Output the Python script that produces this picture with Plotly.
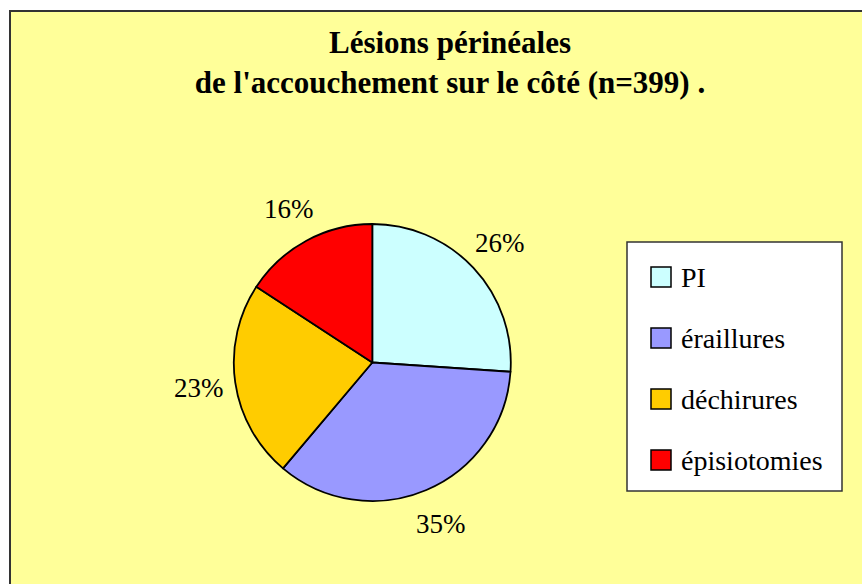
import math
import plotly.graph_objects as go

# ---- data ----
categories = ["PI", "éraillures", "déchirures", "épisiotomies"]
counts = [104, 140, 92, 63]          # n = 399
colors = ["#CCFFFF", "#9999FF", "#FFCC00", "#FF0000"]
title_lines = ["Lésions périnéales", "de l'accouchement sur le côté (n=399) ."]

# ---- layout constants (pixels) ----
W, H = 862, 584
cx, cy, r = 372.3, 362.5, 138.5      # pie centre and radius
label_dist = 175                     # distance of % labels from centre
FONT = "Liberation Serif"

def px_x(x):
    return x / W

def px_y(y):
    return 1 - y / H

total = sum(counts)
pcts = [f"{round(c / total * 100)}%" for c in counts]

fig = go.Figure(
    go.Pie(
        labels=categories,
        values=counts,
        sort=False,
        direction="clockwise",
        rotation=0,
        marker=dict(colors=colors, line=dict(color="black", width=1.8)),
        textinfo="none",
        hoverinfo="label+value+percent",
        showlegend=False,
        domain=dict(x=[px_x(cx - r), px_x(cx + r)], y=[px_y(cy + r), px_y(cy - r)]),
    )
)

annotations = []
# percentage labels placed radially outside each slice
cum = 0
for c, p in zip(counts, pcts):
    mid = (cum + c / 2) / total * 2 * math.pi
    cum += c
    x = cx + label_dist * math.sin(mid)
    y = cy - label_dist * math.cos(mid)
    annotations.append(dict(
        x=px_x(x), y=px_y(y), xref="paper", yref="paper",
        text=p, showarrow=False, xanchor="center", yanchor="middle",
        font=dict(family=FONT, size=27, color="black"),
    ))

# outer frame and legend box
shapes = [
    dict(type="rect", xref="paper", yref="paper", layer="below",
         x0=px_x(10), x1=1.05, y0=-0.05, y1=px_y(11),
         fillcolor="#FFFF99", line=dict(color="#333333", width=2)),
    dict(type="rect", xref="paper", yref="paper", layer="below",
         x0=px_x(627), x1=px_x(842), y0=px_y(491), y1=px_y(242),
         fillcolor="white", line=dict(color="#333333", width=1.5)),
]

# manual legend entries
leg_y0, leg_step = 277, 61
sw_x0, sw_size, txt_x = 651, 20, 679
for i, (lab, col) in enumerate(zip(categories, colors)):
    yc = leg_y0 + i * leg_step
    shapes.append(dict(
        type="rect", xref="paper", yref="paper",
        x0=px_x(sw_x0), x1=px_x(sw_x0 + sw_size),
        y0=px_y(yc + sw_size / 2), y1=px_y(yc - sw_size / 2),
        fillcolor=col, line=dict(color="black", width=1.5),
    ))
    annotations.append(dict(
        x=px_x(txt_x), y=px_y(yc), xref="paper", yref="paper",
        text=lab, showarrow=False, xanchor="left", yanchor="middle",
        font=dict(family=FONT, size=28, color="black"),
    ))

fig.update_layout(
    width=W, height=H,
    margin=dict(l=0, r=0, t=0, b=0),
    paper_bgcolor="white",
    plot_bgcolor="white",
    title=dict(
        text="<b>" + "<br>".join(title_lines) + "</b>",
        x=450 / W, xanchor="center", xref="paper",
        y=px_y(53), yanchor="middle", yref="container",
        font=dict(family=FONT, size=31, color="black"),
    ),
    shapes=shapes,
    annotations=annotations,
)

fig.write_html(
    "out.html",
    config={"displayModeBar": False},
    post_script="document.body.style.margin='0';document.body.style.padding='0';",
)
